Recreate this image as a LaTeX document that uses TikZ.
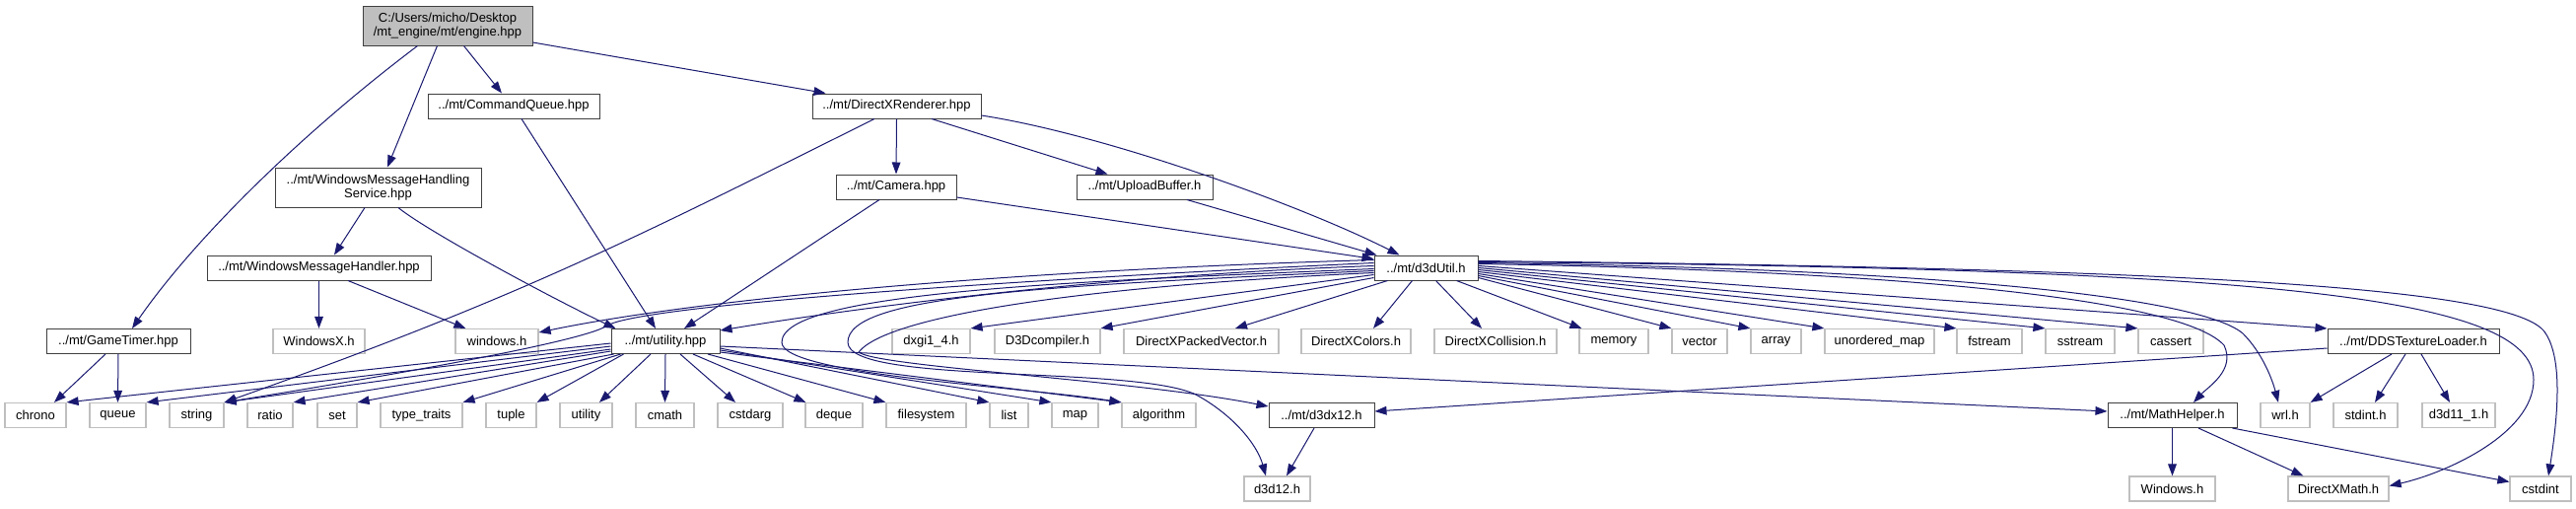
\documentclass[tikz,border=0pt]{standalone}
\usepackage{fontspec}
\setmainfont{Liberation Sans}
\usetikzlibrary{arrows.meta,calc}
\definecolor{edgec}{HTML}{191970}
\definecolor{projb}{HTML}{404040}
\definecolor{sysb}{HTML}{BFBFBF}
\definecolor{engf}{HTML}{BFBFBF}
\begin{document}
\begin{tikzpicture}[x=0.75pt,y=-0.75pt,
  box/.style={rectangle, inner sep=0pt, minimum height=18.75pt, align=center, font=\fontsize{9.75}{10.5}\selectfont, text=black},
  proj/.style={box, draw=projb, line width=0.75pt, fill=white},
  sys/.style={box, draw=sysb, line width=0.9pt, fill=white},
  bw/.style={minimum width=#1*0.75pt},
  edge/.style={draw=edgec, line width=0.75pt, -{Triangle[length=9pt,width=6.5pt]}}]
\fill[white] (0,0) rectangle (2613,515);
\useasboundingbox (0,0) rectangle (2613,515);
% row 0
\node[proj, bw=172, minimum height=30pt, fill=engf] (engine) at (454,26) {C:/Users/micho/Desktop\\/mt\_engine/mt/engine.hpp};
% row 1
\node[proj, bw=174] (cq) at (521,107.5) {../mt/CommandQueue.hpp};
\node[proj, bw=171] (dxr) at (909.5,107.5) {../mt/DirectXRenderer.hpp};
% row 2
\node[proj, bw=209, minimum height=30pt] (wmhs) at (383.5,190) {../mt/WindowsMessageHandling\\Service.hpp};
\node[proj, bw=122] (cam) at (909,189.5) {../mt/Camera.hpp};
\node[proj, bw=138] (upl) at (1161,189.5) {../mt/UploadBuffer.h};
% row 3
\node[proj, bw=227] (wmh) at (323.5,271.5) {../mt/WindowsMessageHandler.hpp};
\node[proj, bw=105] (d3du) at (1446.5,271.5) {../mt/d3dUtil.h};
% row 4
\node[proj, bw=146] (gt) at (120,346) {../mt/GameTimer.hpp};
\node[sys, bw=93] (wx) at (323.5,346) {WindowsX.h};
\node[sys, bw=84] (win) at (504,346) {windows.h};
\node[proj, bw=110] (util) at (675,346) {../mt/utility.hpp};
\node[sys, bw=79] (dxgi) at (944.5,346) {dxgi1\_4.h};
\node[sys, bw=107] (d3dc) at (1062.5,346) {D3Dcompiler.h};
\node[sys, bw=157] (dxpv) at (1218.5,346) {DirectXPackedVector.h};
\node[sys, bw=111] (dxcl) at (1375.5,346) {DirectXColors.h};
\node[sys, bw=124] (dxco) at (1517,346) {DirectXCollision.h};
\node[sys, bw=70] (mem) at (1637,346) {memory};
\node[sys, bw=56] (vec) at (1724,346) {vector};
\node[sys, bw=51] (arr) at (1801.5,346) {array};
\node[sys, bw=111] (umap) at (1906.5,346) {unordered\_map};
\node[sys, bw=66] (fst) at (2018,346) {fstream};
\node[sys, bw=70] (sst) at (2110,346) {sstream};
\node[sys, bw=66] (cas) at (2202,346) {cassert};
\node[proj, bw=174] (dds) at (2448,346) {../mt/DDSTextureLoader.h};
% row 5
\node[sys, bw=62] (chrono) at (36,421) {chrono};
\node[sys, bw=57] (queue) at (119.5,421) {queue};
\node[sys, bw=55] (string) at (199.5,421) {string};
\node[sys, bw=46] (ratio) at (274,421) {ratio};
\node[sys, bw=40] (set) at (342,421) {set};
\node[sys, bw=83] (tt) at (427.5,421) {type\_traits};
\node[sys, bw=51] (tuple) at (518.5,421) {tuple};
\node[sys, bw=53] (utilh) at (594.5,421) {utility};
\node[sys, bw=59] (cmath) at (674.5,421) {cmath};
\node[sys, bw=66] (cstdarg) at (761,421) {cstdarg};
\node[sys, bw=58] (deque) at (846,421) {deque};
\node[sys, bw=81] (fs) at (939.5,421) {filesystem};
\node[sys, bw=39] (list) at (1023.5,421) {list};
\node[sys, bw=47] (map) at (1090.5,421) {map};
\node[sys, bw=75] (algo) at (1175.5,421) {algorithm};
\node[proj, bw=107] (d3dx) at (1340.5,421) {../mt/d3dx12.h};
\node[proj, bw=131] (mh) at (2203.5,421) {../mt/MathHelper.h};
\node[sys, bw=50] (wrl) at (2318,421) {wrl.h};
\node[sys, bw=65] (stdint) at (2399.5,421) {stdint.h};
\node[sys, bw=74] (d3d11) at (2494,421) {d3d11\_1.h};
% row 6
\node[sys, bw=67] (d3d12) at (1295.5,495.5) {d3d12.h};
\node[sys, bw=87] (winh) at (2203.5,495.5) {Windows.h};
\node[sys, bw=102] (dxm) at (2372,495.5) {DirectXMath.h};
\node[sys, bw=62] (cstdint) at (2577,495.5) {cstdint};
% edges from engine
\draw[edge] ($(engine.south west)+(56,0)$) .. controls (301.5,138.5) and (195,245) .. ($(gt.north)+(14,0)$);
\draw[edge] ($(engine.south west)+(76,0)$) -- ($(wmhs.north)+(9.5,0)$);
\draw[edge] ($(engine.south west)+(103,0)$) -- ($(cq.north)+(-12,0)$);
\draw[edge] ($(engine.east)+(0,17)$) -- ($(dxr.north west)+(14,0)$);
% CommandQueue
\draw[edge] ($(cq.south)+(8,0)$) -- ($(util.north)+(-10,0)$);
% DirectXRenderer
\draw[edge] ($(dxr.south)+(-22.5,0)$) .. controls (637,245) and (528,301) .. (string.north east);
\draw[edge] (dxr.south) -- (cam.north);
\draw[edge] ($(dxr.south)+(35.5,0)$) -- ($(upl.north west)+(32,0)$);
\draw[edge] ($(dxr.east)+(0,9.5)$) .. controls (1125,137) and (1324,210) .. ($(d3du.north west)+(26,0)$);
% WindowsMessageHandlingService
\draw[edge] ($(wmhs.south)+(-13.5,0)$) -- ($(wmh.north)+(15.5,0)$);
\draw[edge] ($(wmhs.south)+(20.5,0)$) .. controls (434,235) and (565,305) .. ($(util.north west)+(5,0)$);
% WindowsMessageHandler
\draw[edge] (wmh.south) -- (wx.north);
\draw[edge] ($(wmh.south)+(29.5,0)$) -- ($(win.north west)+(11,0)$);
% Camera, UploadBuffer
\draw[edge] ($(cam.south)+(-17,0)$) -- ($(util.north)+(19,0)$);
\draw[edge] ($(cam.east)+(0,10.5)$) -- ($(d3du.west)+(0,-9)$);
\draw[edge] ($(upl.south)+(43,0)$) -- ($(d3du.north west)+(3,0)$);
% GameTimer
\draw[edge] ($(gt.south)+(-13,0)$) -- ($(chrono.north)+(19,0)$);
\draw[edge] (gt.south) -- (queue.north);
% utility.hpp
\draw[edge] ($(util.west)+(0,2)$) -- (chrono.north east);
\draw[edge] ($(util.west)+(0,5)$) -- (queue.north east);
\draw[edge] ($(util.west)+(0,8)$) -- (string.north east);
\draw[edge] ($(util.west)+(0,10)$) -- (ratio.north east);
\draw[edge] ($(util.south west)+(3,0)$) -- (set.north east);
\draw[edge] ($(util.south west)+(10,0)$) -- (tt.north east);
\draw[edge] ($(util.south west)+(13,0)$) -- (tuple.north east);
\draw[edge] ($(util.south)+(-15,0)$) -- ($(utilh.north)+(13.5,0)$);
\draw[edge] (util.south) -- (cmath.north);
\draw[edge] ($(util.south)+(15,0)$) -- ($(cstdarg.north)+(-15,0)$);
\draw[edge] ($(util.south)+(28,0)$) -- ($(deque.north west)+(1,0)$);
\draw[edge] ($(util.south)+(43,0)$) -- (fs.north west);
\draw[edge] ($(util.east)+(0,7)$) -- (list.north west);
\draw[edge] ($(util.east)+(0,9)$) -- (map.north west);
\draw[edge] ($(util.east)+(0,11)$) -- (algo.north west);
\draw[edge] ($(util.east)+(0,5)$) -- ($(mh.west)+(0,-4)$);
% d3dUtil to the left
\draw[edge] ($(d3du.west)+(0,-8)$) .. controls (1000,275) and (700,305) .. ($(win.east)+(0,-9)$);
\draw[edge] ($(d3du.west)+(0,-5)$) .. controls (1000,285) and (650,310) .. (616,330) .. controls (590,348) and (350,388) .. (string.north east);
\draw[edge] ($(d3du.west)+(0,-2)$) .. controls (1100,280) and (850,315) .. ($(util.east)+(0,-11)$);
\draw[edge] ($(d3du.west)+(0,1)$) .. controls (1100,285) and (793,295) .. (793,347) .. controls (793,380) and (1038,392) .. (algo.north west);
\draw[edge] ($(d3du.west)+(0,3)$) .. controls (1050,290) and (860,300) .. (860,347) .. controls (860,390) and (1150,370) .. (1213,400) .. controls (1250,420) and (1275,450) .. ($(d3d12.north)+(-11.5,0)$);
\draw[edge] ($(d3du.west)+(0,5)$) .. controls (1100,290) and (900,320) .. (871,357) .. controls (890,372) and (1150,385) .. ($(d3dx.north west)+(0,4)$);
\draw[edge] ($(d3du.west)+(0,7)$) -- (dxgi.north east);
\draw[edge] ($(d3du.west)+(0,10)$) -- (d3dc.north east);
% d3dUtil downwards
\draw[edge] ($(d3du.south west)+(14,0)$) -- ($(dxpv.north)+(34.5,0)$);
\draw[edge] ($(d3du.south west)+(39,0)$) -- ($(dxcl.north)+(17.5,0)$);
\draw[edge] ($(d3du.south west)+(63,0)$) -- ($(dxco.north)+(-14,0)$);
\draw[edge] ($(d3du.south west)+(84,0)$) -- ($(mem.north west)+(3,0)$);
% d3dUtil to the right
\draw[edge] ($(d3du.east)+(0,10)$) -- (vec.north west);
\draw[edge] ($(d3du.east)+(0,8)$) -- (arr.north west);
\draw[edge] ($(d3du.east)+(0,6)$) -- (umap.north west);
\draw[edge] ($(d3du.east)+(0,4)$) -- (fst.north west);
\draw[edge] ($(d3du.east)+(0,2)$) -- (sst.north west);
\draw[edge] (d3du.east) -- (cas.north west);
\draw[edge] ($(d3du.east)+(0,-2)$) -- (dds.north west);
\draw[edge] ($(d3du.east)+(0,-4)$) .. controls (1950,275) and (2215,305) .. (2256,350) .. controls (2268,375) and (2240,392) .. ($(mh.north)+(21.5,0)$);
\draw[edge] ($(d3du.east)+(0,-5)$) .. controls (1950,272) and (2230,300) .. (2275,338) .. controls (2295,358) and (2305,385) .. ($(wrl.north)+(-7,0)$);
\draw[edge] ($(d3du.east)+(0,-6)$) .. controls (2300,272) and (2570,300) .. (2570,385) .. controls (2570,440) and (2480,480) .. ($(dxm.east)+(0,-3)$);
\draw[edge] ($(d3du.east)+(0,-7)$) .. controls (2200,272) and (2540,290) .. (2580,335) .. controls (2600,360) and (2595,420) .. ($(cstdint.north)+(8,0)$);
% DDSTextureLoader
\draw[edge] ($(dds.south)+(-22,0)$) -- (wrl.north east);
\draw[edge] ($(dds.south)+(-8,0)$) -- ($(stdint.north)+(9.5,0)$);
\draw[edge] ($(dds.south)+(8,0)$) -- ($(d3d11.north)+(-9,0)$);
\draw[edge] ($(dds.west)+(0,7)$) -- ($(d3dx.east)+(0,-4)$);
% MathHelper
\draw[edge] (mh.south) -- (winh.north);
\draw[edge] ($(mh.south)+(26.5,0)$) -- ($(dxm.north west)+(16,0)$);
\draw[edge] ($(mh.south east)+(-5,0)$) -- ($(cstdint.west)+(0,-7)$);
% d3dx12
\draw[edge] ($(d3dx.south)+(-7.5,0)$) -- ($(d3d12.north)+(9.5,0)$);
\end{tikzpicture}
\end{document}
